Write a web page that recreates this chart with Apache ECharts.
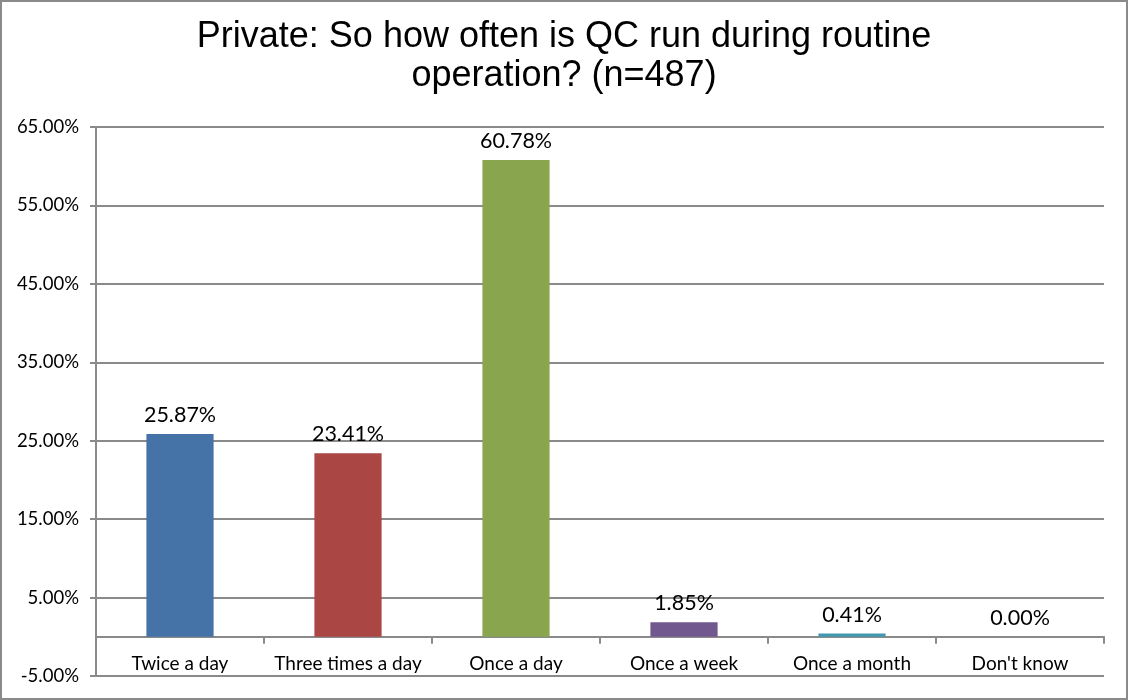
<!DOCTYPE html>
<html>
<head>
<meta charset="utf-8">
<script src="https://cdn.jsdelivr.net/npm/echarts@6/dist/echarts.min.js"></script>
<style>
html,body{margin:0;padding:0;background:#fff;}
#wrap{position:absolute;left:0;top:0;width:1124px;height:696px;border:2px solid #8a8a8a;}
#chart{width:1124px;height:696px;}
</style>
</head>
<body>
<div id="wrap"><div id="chart"></div></div>
<script>
const titleText = "Private: So how often is QC run during routine\noperation? (n=487)";
const categories = ["Twice a day", "Three times a day", "Once a day", "Once a week", "Once a month", "Don't know"];
const values = [25.87, 23.41, 60.78, 1.85, 0.41, 0.00];
const colors = ["#4572A7", "#AA4643", "#89A54E", "#71588F", "#4198AF", "#DB843D"];
const yMin = -5, yMax = 65, yStep = 10;

const chart = echarts.init(document.getElementById('chart'));
const labelFont = 'Lato, "Open Sans", "Liberation Sans", sans-serif';
chart.setOption({
  animation: false,
  title: {
    text: titleText,
    left: 'center',
    top: 11,
    textStyle: {fontFamily: '"Liberation Sans", Arial, sans-serif', fontSize: 36, fontWeight: 'normal', color: '#000', lineHeight: 39}
  },
  grid: {left: 94, right: 22, top: 125, bottom: 22, containLabel: false, outerBoundsMode: 'none'},
  xAxis: {
    type: 'category',
    data: categories,
    axisLine: {onZero: true, lineStyle: {color: '#8a8a8a', width: 2}},
    axisTick: {show: true, length: 7, lineStyle: {color: '#8a8a8a', width: 2}},
    axisLabel: {interval: 0, fontFamily: labelFont, fontSize: 19, color: '#000', margin: -22}
  },
  yAxis: {
    type: 'value',
    min: yMin, max: yMax, interval: yStep,
    axisLine: {show: true, lineStyle: {color: '#8a8a8a', width: 2}},
    axisTick: {show: true, length: 6, lineStyle: {color: '#8a8a8a', width: 2}},
    splitLine: {show: true, lineStyle: {color: '#8a8a8a', width: 2}},
    axisLabel: {fontFamily: labelFont, fontSize: 18.5, color: '#000', margin: 17,
      formatter: v => v.toFixed(2) + '%'}
  },
  series: [{
    type: 'bar',
    data: values.map((v, i) => ({value: v, itemStyle: {color: colors[i]}})),
    barWidth: '40%',
    label: {show: true, position: 'top', distance: 8, fontFamily: labelFont, fontSize: 21.5, color: '#000',
      formatter: p => p.value.toFixed(2) + '%'}
  }]
});
</script>
</body>
</html>
